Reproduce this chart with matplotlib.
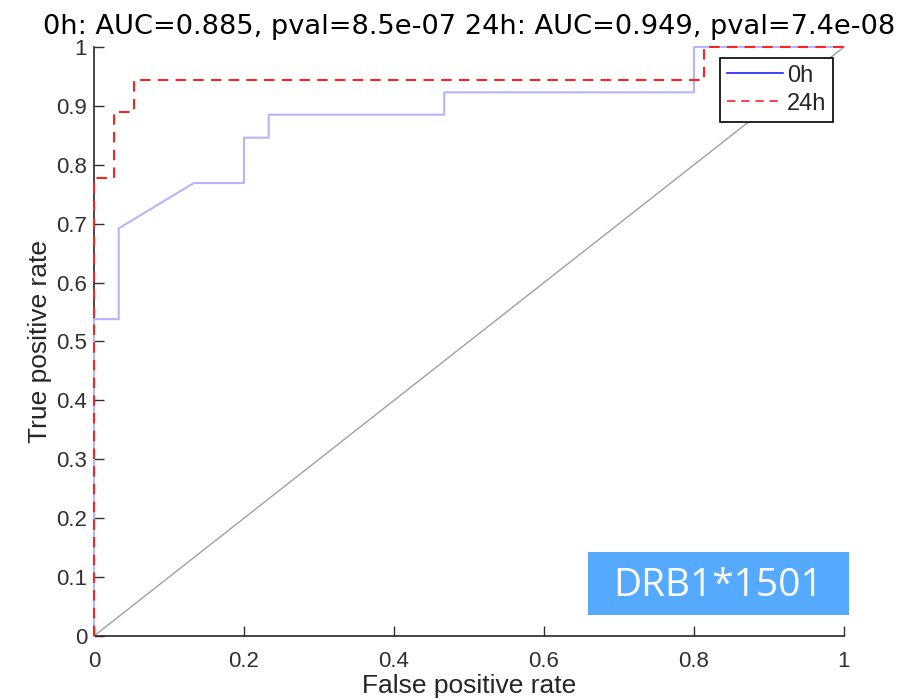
import numpy as np
import matplotlib
matplotlib.use("Agg")
import matplotlib.pyplot as plt
from matplotlib.patches import Rectangle

# ROC points
fpr_0h = [0, 0, 0.033, 0.033, 0.133, 0.2, 0.2, 0.233, 0.233, 0.467, 0.467, 0.8, 0.8, 1.0]
tpr_0h = [0, 0.538, 0.538, 0.692, 0.769, 0.769, 0.846, 0.846, 0.885, 0.885, 0.923, 0.923, 1.0, 1.0]
fpr_24h = [0, 0, 0.027, 0.027, 0.054, 0.054, 0.813, 0.813, 1.0]
tpr_24h = [0, 0.778, 0.778, 0.889, 0.889, 0.944, 0.944, 1.0, 1.0]

title = "0h: AUC=0.885, pval=8.5e-07 24h: AUC=0.949, pval=7.4e-08"
label = "DRB1*1501"
xticks = [0, 0.2, 0.4, 0.6, 0.8, 1]
yticks = [0, 0.1, 0.2, 0.3, 0.4, 0.5, 0.6, 0.7, 0.8, 0.9, 1]

plt.rcParams['font.family'] = ['Liberation Sans', 'DejaVu Sans']

fig = plt.figure(figsize=(9.14, 7), dpi=100)
ax = fig.add_axes([0.1028, 0.0914, 0.8206, 0.8415])

ax.plot([0, 1], [0, 1], color='#a0a0a0', lw=1)
ax.plot(fpr_0h, tpr_0h, color='#b4b4ff', lw=1.5, clip_on=False, zorder=3)
ax.plot(fpr_24h, tpr_24h, color='#ff2020', lw=1.5, dashes=(5, 3.5), clip_on=False, zorder=4)

# legend proxies (solid colours, as in the reference)
h0, = ax.plot([], [], color='#2020ff', lw=1.2)
h24, = ax.plot([], [], color='#ff2020', lw=1.2, dashes=(5, 3.5))
leg = ax.legend([h0, h24], ['0h', '24h'], loc='upper right', fontsize=17,
                fancybox=False, framealpha=1, edgecolor='black',
                handlelength=2.4, handletextpad=0.15, borderpad=0.3,
                labelspacing=0.25, borderaxespad=0.45)
leg.get_frame().set_linewidth(1.2)
leg.set_zorder(5)
for t in leg.get_texts():
    t.set_color('#262626')

ax.set_xlim(0, 1)
ax.set_ylim(0, 1)
ax.set_xticks(xticks)
ax.set_xticklabels(['0', '0.2', '0.4', '0.6', '0.8', '1'])
ax.set_yticks(yticks)
ax.set_yticklabels(['0', '0.1', '0.2', '0.3', '0.4', '0.5', '0.6', '0.7', '0.8', '0.9', '1'])
ax.tick_params(direction='in', length=7, labelsize=16, colors='#303030', width=1)
ax.tick_params(axis='x', pad=11)
ax.tick_params(axis='y', pad=5)
ax.spines['top'].set_visible(False)
ax.spines['right'].set_visible(False)
for s in ('left', 'bottom'):
    ax.spines[s].set_color('#262626')
    ax.spines[s].set_linewidth(1.2)

ax.set_xlabel('False positive rate', fontsize=19, color='#262626', labelpad=1)
ax.set_ylabel('True positive rate', fontsize=19, color='#262626', labelpad=3)
ax.set_title(title, fontsize=19.6, family='DejaVu Sans', pad=9)

# label box
fig.patches.append(Rectangle((0.6433, 0.1214), 0.2856, 0.09, transform=fig.transFigure,
                             facecolor='#55aaff', edgecolor='none'))
fig.text(0.7861, 0.1629, label, fontsize=28, color='white', family='Open Sans',
         ha='center', va='center')

fig.savefig('out.png', dpi=100)
